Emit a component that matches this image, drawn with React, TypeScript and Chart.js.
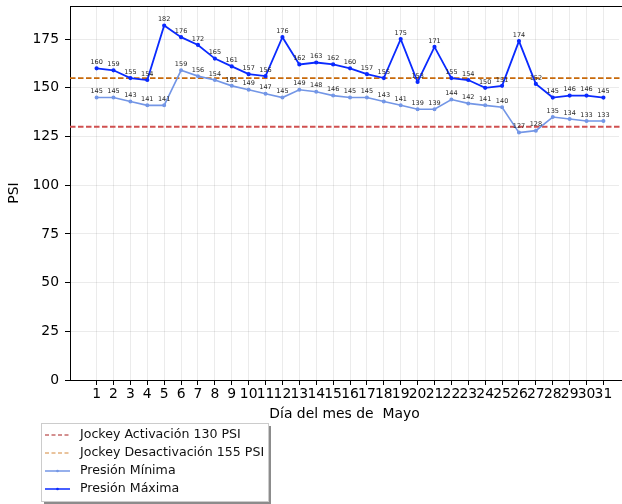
import { useEffect, useRef } from 'react';
import { Chart, registerables } from 'chart.js';

Chart.register(...registerables);

const days = [1, 2, 3, 4, 5, 6, 7, 8, 9, 10, 11, 12, 13, 14, 15, 16, 17, 18, 19, 20, 21, 22, 23, 24, 25, 26, 27, 28, 29, 30, 31];
const presionMaxima = [160, 159, 155, 154, 182, 176, 172, 165, 161, 157, 156, 176, 162, 163, 162, 160, 157, 155, 175, 153, 171, 155, 154, 150, 151, 174, 152, 145, 146, 146, 145];
const presionMinima = [145, 145, 143, 141, 141, 159, 156, 154, 151, 149, 147, 145, 149, 148, 146, 145, 145, 143, 141, 139, 139, 144, 142, 141, 140, 127, 128, 135, 134, 133, 133];
const thresholds = [130, 155];
const thresholdLabels = ['Jockey Activación 130 PSI', 'Jockey Desactivación 155 PSI'];
const seriesLabels = ['Presión Mínima', 'Presión Máxima'];
const yTicks = [0, 25, 50, 75, 100, 125, 150, 175];

const FONT = "'DejaVu Sans', sans-serif";
const thresholdColors = ['#d05050', '#c8690a'];
const thresholdLegendColors = ['#a82020', '#d4883a'];
const minColor = '#7396e6';
const maxColor = '#0a2aff';

export default function App() {
  const ref = useRef<HTMLCanvasElement | null>(null);

  useEffect(() => {
    if (!ref.current) return;

    const thresholdPlugin = {
      id: 'thresholds',
      beforeDatasetsDraw(chart: any) {
        const { ctx, chartArea, scales } = chart;
        ctx.save();
        thresholds.forEach((t, i) => {
          const y = scales.y.getPixelForValue(t);
          ctx.strokeStyle = thresholdColors[i];
          ctx.lineWidth = 1.8;
          ctx.setLineDash([5.5, 2.5]);
          ctx.beginPath();
          ctx.moveTo(chartArea.left, y);
          ctx.lineTo(chart.width, y);
          ctx.stroke();
        });
        ctx.restore();
      },
    };

    const labelsPlugin = {
      id: 'pointLabels',
      afterDatasetsDraw(chart: any) {
        const { ctx } = chart;
        ctx.save();
        ctx.font = `6.5px ${FONT}`;
        ctx.fillStyle = '#262626';
        ctx.textAlign = 'center';
        ctx.textBaseline = 'middle';
        chart.data.datasets.forEach((ds: any, di: number) => {
          const meta = chart.getDatasetMeta(di);
          meta.data.forEach((pt: any, i: number) => {
            ctx.fillText(String(ds.data[i].y), pt.x, pt.y - 6);
          });
        });
        ctx.restore();
      },
    };

    const framePlugin = {
      id: 'frame',
      afterDraw(chart: any) {
        const { ctx, chartArea } = chart;
        ctx.save();
        ctx.strokeStyle = '#000';
        ctx.lineWidth = 1;
        ctx.beginPath();
        ctx.moveTo(chartArea.left, Math.round(chartArea.top) + 0.5);
        ctx.lineTo(chart.width, Math.round(chartArea.top) + 0.5);
        ctx.moveTo(chartArea.right, chartArea.bottom + 0.5);
        ctx.lineTo(chart.width, chartArea.bottom + 0.5);
        ctx.stroke();

        // legend
        const bx = 41, by = 423, bw = 227, bh = 78;
        ctx.fillStyle = 'rgba(0,0,0,0.45)';
        ctx.fillRect(bx + 3, by + 3, bw, bh);
        ctx.fillStyle = '#fff';
        ctx.fillRect(bx, by, bw, bh);
        ctx.strokeStyle = '#cccccc';
        ctx.strokeRect(bx + 0.5, by + 0.5, bw, bh);
        const items = [
          { label: thresholdLabels[0], color: thresholdLegendColors[0], dash: true, w: 1 },
          { label: thresholdLabels[1], color: thresholdLegendColors[1], dash: true, w: 1 },
          { label: seriesLabels[0], color: minColor, dash: false, w: 1.5 },
          { label: seriesLabels[1], color: maxColor, dash: false, w: 1.5 },
        ];
        ctx.font = `12.6px ${FONT}`;
        ctx.textBaseline = 'middle';
        ctx.textAlign = 'left';
        items.forEach((it, i) => {
          const y = 435 + i * 18;
          ctx.strokeStyle = it.color;
          ctx.lineWidth = it.w;
          ctx.setLineDash(it.dash ? [4, 2.5] : []);
          ctx.beginPath();
          ctx.moveTo(45, y);
          ctx.lineTo(70, y);
          ctx.stroke();
          ctx.setLineDash([]);
          if (!it.dash) {
            ctx.fillStyle = it.color;
            ctx.beginPath();
            ctx.arc(57.5, y, 1.3, 0, Math.PI * 2);
            ctx.fill();
          }
          ctx.fillStyle = '#111';
          ctx.fillText(it.label, 80, y);
        });
        ctx.restore();
      },
    };

    const chart = new Chart(ref.current, {
      type: 'line',
      data: {
        datasets: [
          {
            label: seriesLabels[0],
            data: days.map((d, i) => ({ x: d, y: presionMinima[i] })),
            borderColor: minColor,
            backgroundColor: minColor,
            borderWidth: 1.6,
            pointRadius: 1.2,
            pointHoverRadius: 1.2,
            tension: 0,
          },
          {
            label: seriesLabels[1],
            data: days.map((d, i) => ({ x: d, y: presionMaxima[i] })),
            borderColor: maxColor,
            backgroundColor: maxColor,
            borderWidth: 1.8,
            pointRadius: 1.2,
            pointHoverRadius: 1.2,
            tension: 0,
          },
        ],
      },
      options: {
        responsive: false,
        animation: false,
        layout: { padding: { top: 6, left: 0, right: 0, bottom: 0 } },
        plugins: {
          legend: { display: false },
          tooltip: { enabled: false },
        },
        scales: {
          x: {
            type: 'linear',
            min: -0.5743,
            max: 31.921,
            afterBuildTicks: (scale: any) => {
              scale.ticks = days.map((d) => ({ value: d }));
            },
            afterFit: (scale: any) => {
              scale.height = 124;
              scale.paddingLeft = 0;
              scale.paddingRight = 0;
              scale.paddingTop = 0;
              scale.paddingBottom = 0;
            },
            ticks: {
              autoSkip: false,
              maxRotation: 0,
              minRotation: 0,
              includeBounds: false,
              padding: 1,
              color: '#000',
              font: { family: FONT, size: 13.9 },
              callback: (v: any) => String(v),
            },
            grid: {
              color: 'rgba(0,0,0,0.08)',
              tickColor: '#000',
              tickLength: 5,
              lineWidth: 1,
            },
            border: { display: true, color: '#000', width: 1 },
            title: {
              display: true,
              text: 'Día del mes de  Mayo',
              color: '#000',
              font: { family: FONT, size: 13.9 },
              padding: { top: 0, bottom: 81 },
            },
          },
          y: {
            min: 0,
            max: 192,
            afterBuildTicks: (scale: any) => {
              scale.ticks = yTicks.map((v) => ({ value: v }));
            },
            afterFit: (scale: any) => {
              scale.width = 70;
              scale.paddingLeft = 0;
              scale.paddingRight = 0;
              scale.paddingTop = 0;
              scale.paddingBottom = 0;
            },
            ticks: {
              padding: 6,
              color: '#000',
              font: { family: FONT, size: 13.9 },
              callback: (v: any) => String(v),
            },
            grid: {
              color: 'rgba(0,0,0,0.08)',
              tickColor: '#000',
              tickLength: 5,
              lineWidth: 1,
            },
            border: { display: true, color: '#000', width: 1 },
            title: {
              display: true,
              text: 'PSI',
              color: '#000',
              font: { family: FONT, size: 13.9 },
              padding: { top: 6, bottom: 0 },
            },
          },
        },
      },
      plugins: [thresholdPlugin, labelsPlugin, framePlugin],
    } as any);

    return () => chart.destroy();
  }, []);

  return (
    <div style={{ position: 'absolute', left: 0, top: 0, width: 622, height: 504 }}>
      <canvas ref={ref} width={622} height={504} style={{ width: 622, height: 504 }} />
    </div>
  );
}
